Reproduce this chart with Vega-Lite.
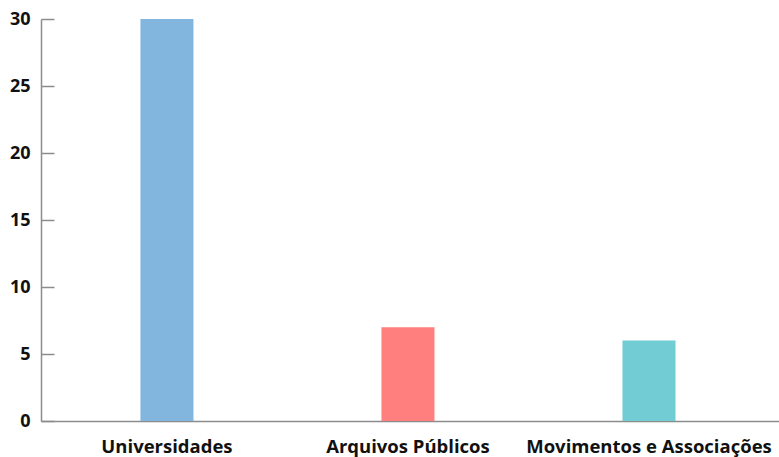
{
  "$schema": "https://vega.github.io/schema/vega-lite/v6.json",
  "width": 738,
  "height": 402,
  "autosize": "none",
  "padding": {"left": 41, "top": 19, "right": 0, "bottom": 36},
  "background": "white",
  "config": {"view": {"stroke": null}, "font": "Open Sans"},
  "data": {"values": [
    {"categoria": "Universidades", "valor": 30},
    {"categoria": "Arquivos Públicos", "valor": 7},
    {"categoria": "Movimentos e Associações", "valor": 6}
  ]},
  "mark": {"type": "bar"},
  "encoding": {
    "x": {"field": "categoria", "type": "nominal", "sort": null,
      "scale": {"paddingInner": 0.78, "paddingOuter": 0.421, "align": 0.49},
      "axis": {"title": null, "labelAngle": 0, "ticks": false, "domainColor": "#8c8c8c", "domainWidth": 1.5,
        "labelFont": "Open Sans", "labelFontWeight": "bold", "labelFontSize": 18.5, "labelColor": "#111", "labelPadding": 16, "labelLimit": 0}},
    "y": {"field": "valor", "type": "quantitative",
      "scale": {"domain": [0, 30], "nice": false},
      "axis": {"title": null, "values": [0,5,10,15,20,25,30], "grid": false, "domainColor": "#8c8c8c", "domainWidth": 1.5,
        "ticks": true, "tickColor": "#8c8c8c", "tickWidth": 1.5, "tickSize": -13,
        "labelFont": "Open Sans", "labelFontWeight": "bold", "labelFontSize": 18, "labelColor": "#111", "labelPadding": 24}},
    "color": {"field": "categoria", "type": "nominal", "legend": null,
      "scale": {"domain": ["Universidades", "Arquivos Públicos", "Movimentos e Associações"], "range": ["#82b6de", "#ff7f7f", "#72ccd3"]}}
  }
}
